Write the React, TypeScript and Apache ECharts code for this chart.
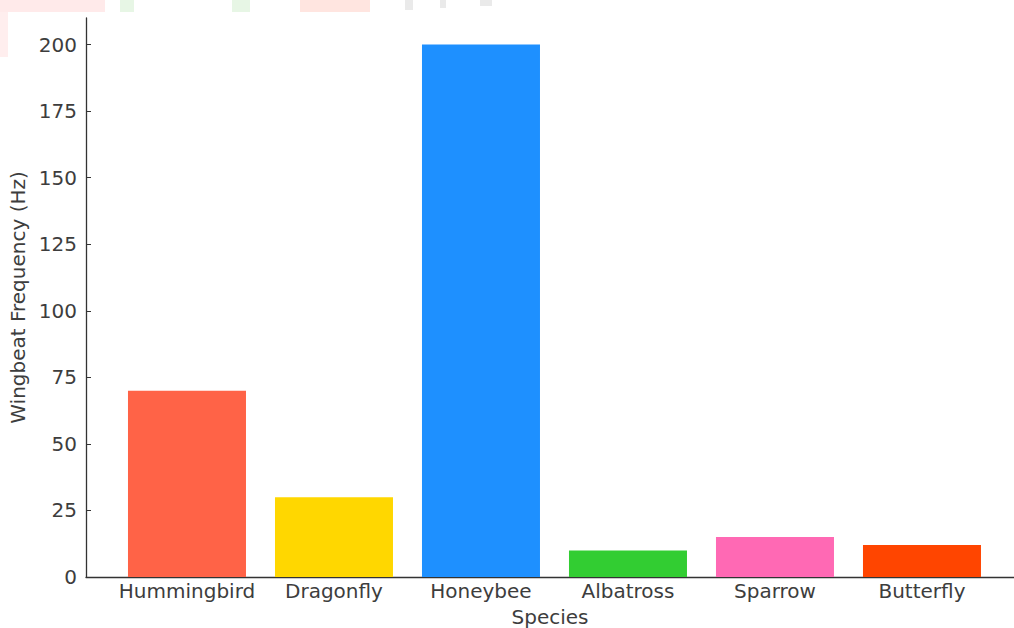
import React, { useEffect, useRef } from "react";
import * as echarts from "echarts";

const species = ["Hummingbird", "Dragonfly", "Honeybee", "Albatross", "Sparrow", "Butterfly"];
const frequencies = [70, 30, 200, 10, 15, 12];
const barColors = ["#FF6347", "#FFD700", "#1E90FF", "#32CD32", "#FF69B4", "#FF4500"];
const yTicks = [0, 25, 50, 75, 100, 125, 150, 175, 200];

export default function App() {
  const ref = useRef<HTMLDivElement>(null);
  useEffect(() => {
    if (!ref.current) return;
    const chart = echarts.init(ref.current, null, { renderer: "svg" });
    const font = "DejaVu Sans";
    const textColor = "#3d3d3d";
    chart.setOption({
      animation: false,
      backgroundColor: "#ffffff",
      textStyle: { fontFamily: font },
      graphic: [
        { type: "rect", shape: { x: 0, y: 0, width: 105, height: 12 }, style: { fill: "rgba(255,170,170,0.25)" }, silent: true },
        { type: "rect", shape: { x: 0, y: 12, width: 8, height: 45 }, style: { fill: "rgba(255,170,170,0.2)" }, silent: true },
        { type: "rect", shape: { x: 120, y: 0, width: 14, height: 12 }, style: { fill: "rgba(160,220,150,0.25)" }, silent: true },
        { type: "rect", shape: { x: 232, y: 0, width: 18, height: 12 }, style: { fill: "rgba(160,220,150,0.25)" }, silent: true },
        { type: "rect", shape: { x: 300, y: 0, width: 70, height: 12 }, style: { fill: "rgba(255,150,130,0.25)" }, silent: true },
        { type: "rect", shape: { x: 405, y: 0, width: 8, height: 10 }, style: { fill: "rgba(150,150,150,0.2)" }, silent: true },
        { type: "rect", shape: { x: 440, y: 0, width: 6, height: 8 }, style: { fill: "rgba(150,150,150,0.2)" }, silent: true },
        { type: "rect", shape: { x: 480, y: 0, width: 12, height: 6 }, style: { fill: "rgba(150,150,150,0.2)" }, silent: true },
      ],
      grid: { left: 86, top: 18, width: 928, height: 559, containLabel: false, outerBoundsMode: "none" },
      xAxis: {
        type: "value",
        min: -0.687,
        max: 5.626,
        name: "Species",
        nameLocation: "middle",
        nameGap: 30,
        nameTextStyle: { color: textColor, fontSize: 20, fontFamily: font },
        splitLine: { show: false },
        axisLine: { show: true, lineStyle: { color: "#333", width: 1.3 } },
        axisTick: { show: true, inside: true, length: 5, customValues: [0, 1, 2, 3, 4, 5], lineStyle: { color: "#333" } },
        axisLabel: {
          customValues: [0, 1, 2, 3, 4, 5],
          formatter: (v: number) => species[Math.round(v)] ?? "",
          color: textColor,
          fontSize: 20,
          fontFamily: font,
          margin: 4,
        },
      },
      yAxis: {
        type: "value",
        min: 0,
        max: 210,
        name: "Wingbeat Frequency (Hz)",
        nameLocation: "middle",
        nameGap: 58,
        nameTextStyle: { color: textColor, fontSize: 20, fontFamily: font },
        splitLine: { show: false },
        axisLine: { show: true, onZero: false, lineStyle: { color: "#333", width: 1.3 } },
        axisTick: { show: true, inside: true, length: 5, customValues: yTicks, lineStyle: { color: "#333" } },
        axisLabel: {
          customValues: yTicks,
          color: textColor,
          fontSize: 20,
          fontFamily: font,
          margin: 9,
        },
      },
      series: [
        {
          type: "bar",
          barWidth: 118,
          data: frequencies.map((v, i) => ({ value: [i, v], itemStyle: { color: barColors[i] } })),
        },
      ],
    });
    return () => chart.dispose();
  }, []);
  return <div ref={ref} style={{ position: "fixed", left: 0, top: 0, width: 1014, height: 628 }} />;
}
